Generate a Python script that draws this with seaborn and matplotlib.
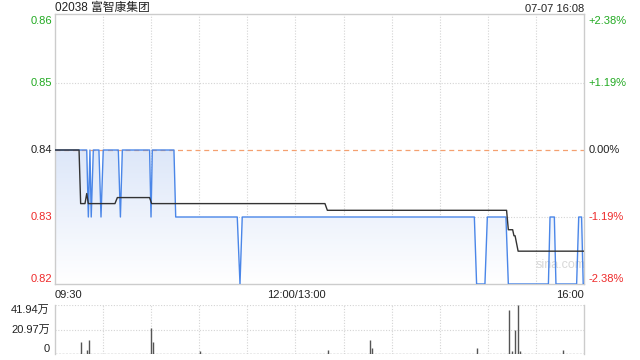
import matplotlib
matplotlib.use("Agg")
import matplotlib.pyplot as plt
import seaborn as sns
import numpy as np
import pandas as pd
from matplotlib.colors import LinearSegmentedColormap

title = "02038 富智康集团"
stamp = "07-07 16:08"
prev_close = 0.84

# minutes since 09:30 (lunch break removed), price
price_min = [0, 19.8, 20.8, 21.8, 22.6, 23.9, 27.4, 28.7, 30.1, 39.5, 40.8, 42, 59, 59.9, 60.7,
             74.2, 75.3, 113.7, 115.4, 116.8, 261.6, 263, 268.2, 269.7, 281.3, 282.8, 307.8,
             308.8, 311.5, 312.5, 325.4, 326.7, 328.5, 329.5, 330]
price_val = [0.84, 0.84, 0.83, 0.84, 0.83, 0.84, 0.84, 0.83, 0.84, 0.84, 0.83, 0.84, 0.84, 0.83, 0.84,
             0.84, 0.83, 0.83, 0.82, 0.83, 0.83, 0.82, 0.82, 0.83, 0.83, 0.82, 0.82,
             0.83, 0.83, 0.82, 0.82, 0.83, 0.83, 0.82, 0.82]

avg_min = [0, 15, 16, 18.7, 19.8, 20.8, 37.4, 38.9, 59, 60.3, 168.4, 169.9, 281.7, 282.8,
           285.5, 286.3, 287, 288.9, 330]
avg_val = [0.84, 0.84, 0.832, 0.832, 0.8335, 0.832, 0.832, 0.8329, 0.8329, 0.832, 0.832, 0.831,
           0.831, 0.8281, 0.8281, 0.8272, 0.8272, 0.8249, 0.8249]

vol_min = [16.4, 20.2, 21.4, 60.1, 61.3, 90.5, 170.5, 196.2, 198, 263.5, 283.4, 285.3, 287.2,
           289, 290.3, 317.1]
vol_wan = [10.5, 3.7, 12.2, 22.5, 10.5, 2.6, 3.7, 12.0, 5.4, 5.4, 37.9, 2.3, 20.3, 41.94, 2.3, 3.7]

price_ticks = [0.82, 0.83, 0.84, 0.85, 0.86]
price_labels = ["0.82", "0.83", "0.84", "0.85", "0.86"]
pct_labels = ["-2.38%", "-1.19%", "0.00%", "+1.19%", "+2.38%"]
tick_colors = ["#ee2a2a", "#ee2a2a", "#222222", "#22aa22", "#22aa22"]
vol_ticks = [0, 20.97, 41.94]
vol_labels = ["0", "20.97万", "41.94万"]
time_labels = ["09:30", "12:00/13:00", "16:00"]

sns.set_theme(style="white")
plt.rcParams["font.family"] = ["Liberation Sans", "Noto Sans CJK SC", "DejaVu Sans"]

fig = plt.figure(figsize=(6.4, 3.6), dpi=100)
ax = fig.add_axes([55 / 640, 1 - 284 / 360, 529 / 640, 270 / 360])
ax2 = fig.add_axes([55 / 640, 1 - 354 / 360, 529 / 640, 49 / 360])

df = pd.DataFrame({"t": price_min, "p": price_val})
dfa = pd.DataFrame({"t": avg_min, "p": avg_val})

# gradient fill under price line
fill = ax.fill_between(df["t"], df["p"], 0.82, color="none", lw=0)
cmap = LinearSegmentedColormap.from_list("f", ["#ffffff", "#dde7f9"])
grad = np.linspace(1, 0, 256).reshape(-1, 1)
im = ax.imshow(grad, extent=[0, 330, 0.82, 0.84], aspect="auto", cmap=cmap, vmin=0, vmax=1,
               origin="upper", zorder=1)
im.set_clip_path(fill.get_paths()[0], transform=ax.transData)

grid_kw = dict(color="#d4d4d4", lw=0.8, linestyle=(0, (1, 1.5)), zorder=0.5)
for m in range(30, 330, 30):
    ax.axvline(m, **grid_kw)
    ax2.axvline(m, **grid_kw)
for p in [0.83, 0.85]:
    ax.axhline(p, **grid_kw)
ax.axhline(prev_close, color="#f4a070", lw=0.9, linestyle=(0, (4, 3)), zorder=2)

sns.lineplot(data=df, x="t", y="p", ax=ax, color="#4a86e8", lw=1, zorder=3)
sns.lineplot(data=dfa, x="t", y="p", ax=ax, color="#333333", lw=1, zorder=4)

ax.set_xlim(0, 330)
ax.set_ylim(0.82, 0.8603)
ax.set_xticks([])
ax.set_yticks([])
ax.set_xlabel("")
ax.set_ylabel("")
for s in ax.spines.values():
    s.set_color("#cccccc")
    s.set_linewidth(1)

for i, (p, lab, pl, c) in enumerate(zip(price_ticks, price_labels, pct_labels, tick_colors)):
    va = "bottom" if i == 0 else ("top" if i == len(price_ticks) - 1 else "center")
    ax.text(-0.006, p, lab, transform=ax.get_yaxis_transform(), ha="right", va=va,
            color=c, fontsize=8)
    ax.text(1.009, p, pl, transform=ax.get_yaxis_transform(), ha="left", va=va,
            color=c, fontsize=8)

ax.text(0.955, 0.822, "sina.com", transform=ax.get_yaxis_transform(), ha="center",
        va="bottom", color="#d8d8d8", fontsize=9, zorder=2)

fig.text(55 / 640, 1 - 8.5 / 360, title, ha="left", va="center", fontsize=8.5, color="#222222")
fig.text(584 / 640, 1 - 8.5 / 360, stamp, ha="right", va="center", fontsize=8, color="#222222")

fig.text(55 / 640, 1 - 295 / 360, time_labels[0], ha="left", va="center", fontsize=8, color="#222222")
fig.text(296 / 640, 1 - 295 / 360, time_labels[1], ha="center", va="center", fontsize=8, color="#222222")
fig.text(584 / 640, 1 - 295 / 360, time_labels[2], ha="right", va="center", fontsize=8, color="#222222")

# volume
ax2.vlines(vol_min, 0, vol_wan, color="#555555", lw=1, zorder=3)
ax2.axhline(0, color="#999999", lw=1, linestyle=(0, (1.5, 1)), zorder=2)
ax2.axhline(vol_ticks[1], **grid_kw)
ax2.axhline(vol_ticks[2], **grid_kw)
ax2.set_xlim(0, 330)
ax2.set_ylim(0, 41.94)
ax2.set_xticks([])
ax2.set_yticks([])
for k in ["top", "bottom"]:
    ax2.spines[k].set_visible(False)
for k in ["left", "right"]:
    ax2.spines[k].set_color("#cccccc")
    ax2.spines[k].set_linewidth(1)
for i, (v, lab) in enumerate(zip(vol_ticks, vol_labels)):
    va = "bottom" if i == 0 else ("top" if i == len(vol_ticks) - 1 else "center")
    ax2.text(-0.01, v, lab, transform=ax2.get_yaxis_transform(), ha="right", va=va,
             color="#222222", fontsize=8)

fig.savefig("out.png", dpi=100)
